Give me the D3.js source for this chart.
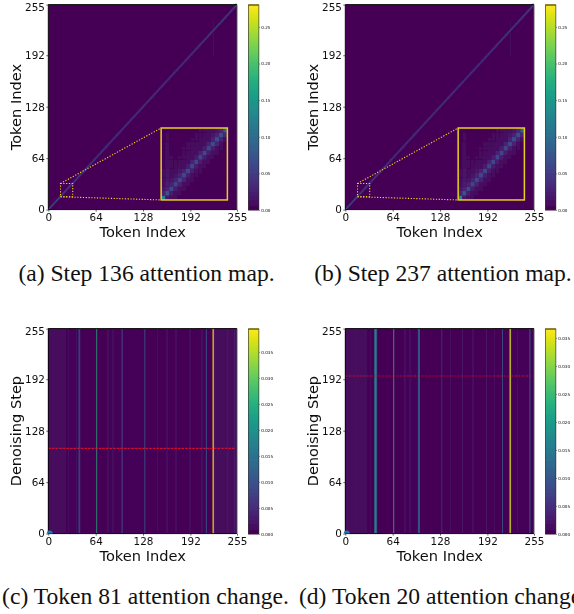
<!DOCTYPE html>
<html><head><meta charset="utf-8">
<script src="https://cdn.jsdelivr.net/npm/d3@7"></script>
<style>
html,body{margin:0;padding:0;background:#fff;overflow:hidden}
svg{display:block}
.panel text{fill:#111}
</style></head><body>
<svg id="chart" width="574" height="614"></svg>
<script>
const tickValues = [0, 64, 128, 192, 255];
const captions = ["(a) Step 136 attention map.", "(b) Step 237 attention map.", "(c) Token 81 attention change.", "(d) Token 20 attention change."];
const mapMax = 0.28;
const changeMaxC = 0.0394;
const changeMaxD = 0.0366;
const mapTicks = [0, 0.05, 0.10, 0.15, 0.20, 0.25];
const changeTicks = [0, 0.005, 0.010, 0.015, 0.020, 0.025, 0.030, 0.035];

// main diagonal strength, one value per run of 16 tokens
const diagonalRuns = [0.10, 0.07, 0.065, 0.06, 0.055, 0.055, 0.055, 0.055, 0.055, 0.055, 0.055, 0.055, 0.06, 0.065, 0.07, 0.075];
const bandOffsets = [1, 2, 3];
const bandValues = [0.035, 0.014, 0.006];
// faint streaks: token, from, to, value
const streaks = [[48, 20, 130, 0.006], [99, 75, 105, 0.004], [131, 105, 170, 0.003], [200, 150, 200, 0.005], [223, 190, 235, 0.013], [211, 160, 212, 0.004]];

// zoomed region, rows from bottom to top, in thousandths
const insetRows = [
 [125,18,9,5,3,2,2,2,1,1,1,1,1,1,1,1],
 [26,72,20,9,6,3,3,2,2,1,1,1,1,1,1,1],
 [14,28,58,24,10,6,4,3,2,2,1,1,1,1,1,1],
 [9,20,26,56,26,10,6,4,3,2,2,2,1,1,1,1],
 [7,18,14,28,58,26,12,6,4,3,2,2,2,1,1,1],
 [6,16,10,14,28,60,24,11,6,4,3,2,2,2,1,1],
 [5,14,7,9,14,26,58,24,10,5,3,3,2,2,1,1],
 [4,12,6,7,9,12,24,58,22,10,5,3,3,2,2,1],
 [4,10,5,5,7,8,12,26,60,22,9,5,3,3,2,2],
 [3,10,5,4,5,6,8,12,24,58,24,10,5,3,2,2],
 [3,8,4,4,4,5,7,8,12,26,60,24,10,5,3,2],
 [3,8,4,3,4,5,6,7,8,12,24,60,24,10,5,3],
 [3,7,4,3,3,4,5,6,7,8,12,26,62,26,10,4],
 [2,6,3,3,3,3,4,5,6,7,9,12,26,64,28,10],
 [2,5,3,3,3,3,3,4,5,6,7,9,14,28,66,30],
 [2,4,3,2,2,3,3,3,4,5,6,7,9,14,30,78]
];

// panel (c) stripes: token, value
const stripesCTokens = [8, 27, 38, 41, 42, 65, 80, 87, 99, 100, 130, 147, 160, 172, 191, 207, 213, 222, 223, 228, 242, 251];
const stripesCValues = [0.002, 0.002, 0.003, 0.011, 0.009, 0.025, 0.002, 0.002, 0.008, 0.006, 0.012, 0.002, 0.003, 0.004, 0.004, 0.002, 0.012, 0.039, 0.035, 0.002, 0.003, 0.004];
const floorC = [[0, 24, 0.0008], [27, 38, 0.0006], [80, 98, 0.0006], [100, 126, 0.0005], [200, 212, 0.0005], [224, 255, 0.001]];

// panel (d) stripes: token, value
const stripesDTokens = [14, 27, 34, 39, 40, 41, 42, 65, 80, 87, 98, 99, 100, 130, 142, 158, 172, 190, 201, 212, 222, 223, 232, 249];
const stripesDValues = [0.002, 0.002, 0.002, 0.012, 0.022, 0.022, 0.014, 0.024, 0.002, 0.002, 0.011, 0.015, 0.012, 0.006, 0.002, 0.003, 0.004, 0.003, 0.002, 0.011, 0.036, 0.034, 0.002, 0.014];
const floorD = [[0, 30, 0.0009], [43, 60, 0.0002], [80, 97, 0.0005], [200, 212, 0.0004], [224, 255, 0.0005]];

const svg = d3.select("#chart");
const defs = svg.append("defs");
defs.append("filter").attr("id", "soft").attr("x", "-5%").attr("y", "-5%").attr("width", "110%").attr("height", "110%")
  .append("feGaussianBlur").attr("stdDeviation", 0.5);

const panelW = 188.7, panelH = 205;
const cbGap = 11.3, cbW = 10.6;

function frame(ox, oy, ylabel, vmax, ticks, fmt) {
  const g = svg.append("g").attr("class", "panel").attr("filter", "url(#soft)");
  const x = d3.scaleLinear().domain([0, 255]).range([ox, ox + panelW]);
  const y = d3.scaleLinear().domain([0, 255]).range([oy + panelH, oy]);
  const color = d3.scaleSequential(d3.interpolateViridis).domain([0, vmax]);
  g.append("rect").attr("x", ox).attr("y", oy).attr("width", panelW).attr("height", panelH).attr("fill", color(0));
  const marks = g.append("g");

  // colour bar
  const cy = d3.scaleLinear().domain([0, vmax]).range([oy + panelH + 0.4, oy + 0.4]);
  const cx = ox + panelW + cbGap;
  const cb = g.append("g");
  cb.selectAll("rect").data(d3.range(0, 1, 1 / 205)).join("rect")
    .attr("x", cx).attr("width", cbW)
    .attr("y", d => cy(vmax * (d + 1 / 205)) - 0.3)
    .attr("height", panelH / 205 + 0.6)
    .attr("fill", d => color(vmax * d));
  cb.append("rect").attr("x", cx).attr("y", oy + 0.4).attr("width", cbW).attr("height", panelH)
    .attr("fill", "none").attr("stroke", "#222").attr("stroke-width", 0.6);
  cb.append("line").attr("x1", cx).attr("x2", cx + cbW).attr("y1", oy + 0.4).attr("y2", oy + 0.4)
    .attr("stroke", "#6b6412").attr("stroke-width", 1.2);
  const cAxis = g.append("g").attr("transform", `translate(${cx + cbW},0)`)
    .call(d3.axisRight(cy).tickValues(ticks).tickFormat(fmt).tickSize(1.2).tickPadding(1.2));
  cAxis.select(".domain").remove();
  cAxis.selectAll("line").attr("stroke-width", 0.4).attr("stroke", "#222");
  cAxis.selectAll("text").attr("font-family", "DejaVu Sans").attr("font-size", 4.1).attr("fill", "#333");

  const overlay = g.append("g");

  // axes and frame
  const ax = g.append("g").attr("transform", `translate(0,${oy + panelH})`)
    .call(d3.axisBottom(x).tickValues(tickValues).tickFormat(d3.format("d")).tickSize(2).tickPadding(1.6));
  const ay = g.append("g").attr("transform", `translate(${ox},0)`)
    .call(d3.axisLeft(y).tickValues(tickValues).tickFormat(d3.format("d")).tickSize(2).tickPadding(1.4));
  [ax, ay].forEach(a => {
    a.select(".domain").remove();
    a.selectAll("line").attr("stroke", "#000").attr("stroke-width", 0.6);
    a.selectAll("text").attr("font-family", "DejaVu Sans").attr("font-size", 10.4);
  });
  ay.selectAll("text").filter(d => d === 255).attr("dy", "0.6em");
  g.append("line").attr("x1", ox).attr("x2", ox + panelW).attr("y1", oy + panelH).attr("y2", oy + panelH).attr("stroke", "#000").attr("stroke-width", 0.9);
  g.append("line").attr("x1", ox).attr("x2", ox).attr("y1", oy).attr("y2", oy + panelH).attr("stroke", "#000").attr("stroke-width", 0.9);
  g.append("line").attr("x1", ox).attr("x2", ox + panelW).attr("y1", oy).attr("y2", oy).attr("stroke", "#000").attr("stroke-width", 0.9);
  g.append("line").attr("x1", ox + panelW).attr("x2", ox + panelW).attr("y1", oy).attr("y2", oy + panelH).attr("stroke", "#555").attr("stroke-width", 0.9);

  g.append("text").attr("x", ox + panelW / 2).attr("y", oy + panelH + 27).attr("text-anchor", "middle")
    .attr("font-family", "DejaVu Sans").attr("font-size", 14.6).text("Token Index");
  g.append("text").attr("transform", `translate(${ox - 32},${oy + panelH / 2}) rotate(-90)`).attr("text-anchor", "middle")
    .attr("dy", "0.35em").attr("font-family", "DejaVu Sans").attr("font-size", 14.6).text(ylabel);
  return { g, x, y, color, marks, overlay, top: g };
}

function attentionPanel(ox, oy) {
  const p = frame(ox, oy, "Token Index", mapMax, mapTicks, d3.format(".2f"));
  const cells = [];
  streaks.forEach(s => d3.range(s[1], s[2]).forEach(r => cells.push({ c: s[0], r, v: s[3] })));
  d3.range(256).forEach(i => {
    const v = diagonalRuns[Math.floor(i / 16)];
    bandOffsets.forEach((o, k) => {
      if (i + o < 256) {
        cells.push({ c: i, r: i + o, v: bandValues[k] });
        cells.push({ c: i + o, r: i, v: bandValues[k] });
      }
    });
    cells.push({ c: i, r: i, v });
  });
  const cw = p.x(1) - p.x(0), ch = p.y(0) - p.y(1);
  p.marks.selectAll("rect").data(cells).join("rect")
    .attr("x", d => p.x(d.c)).attr("y", d => p.y(d.r + 1))
    .attr("width", d => Math.min(cw + 0.1, p.x(255) - p.x(d.c))).attr("height", ch + 0.1).attr("fill", d => p.color(d.v));

  // zoom box in data coordinates
  const box = { x0: 16.5, x1: 33, y0: 16, y1: 32.5 };
  const ins = { x0: 152.5, x1: 242, y0: 12, y1: 101.5 };
  const ix = d3.scaleLinear().domain([0, 16]).range([p.x(ins.x0), p.x(ins.x1)]);
  const iy = d3.scaleLinear().domain([0, 16]).range([p.y(ins.y0), p.y(ins.y1)]);
  const insetCells = insetRows.flatMap((row, r) => row.map((v, c) => ({ r, c, v: v / 1000 })));
  p.overlay.append("g").selectAll("rect").data(insetCells).join("rect")
    .attr("x", d => ix(d.c)).attr("y", d => iy(d.r + 1))
    .attr("width", ix(1) - ix(0) + 0.1).attr("height", iy(0) - iy(1) + 0.1)
    .attr("fill", d => p.color(d.v));
  p.overlay.append("rect").attr("x", p.x(ins.x0)).attr("y", p.y(ins.y1))
    .attr("width", p.x(ins.x1) - p.x(ins.x0)).attr("height", p.y(ins.y0) - p.y(ins.y1))
    .attr("fill", "none").attr("stroke", "#e8cf1c").attr("stroke-width", 1.5);
  p.overlay.append("rect").attr("x", p.x(box.x0)).attr("y", p.y(box.y1))
    .attr("width", p.x(box.x1) - p.x(box.x0)).attr("height", p.y(box.y0) - p.y(box.y1))
    .attr("fill", "none").attr("stroke", "#f2dc1e").attr("stroke-width", 1.1).attr("stroke-dasharray", "1.2 1.6");
  [[box.x0, box.y1, ins.x0, ins.y1], [box.x0, box.y0, ins.x0, ins.y0]].forEach(l => {
    p.overlay.append("line").attr("x1", p.x(l[0])).attr("y1", p.y(l[1])).attr("x2", p.x(l[2])).attr("y2", p.y(l[3]))
      .attr("stroke", "#f2dc1e").attr("stroke-width", 1.1).attr("stroke-dasharray", "1.2 1.6");
  });
}

function changePanel(ox, oy, tokens, values, floor, vmax, step, lineOpacity) {
  const p = frame(ox, oy, "Denoising Step", vmax, changeTicks, d3.format(".3f"));
  const cw = p.x(1) - p.x(0);
  p.marks.append("g").selectAll("rect").data(floor).join("rect")
    .attr("x", d => p.x(d[0])).attr("width", d => p.x(d[1]) - p.x(d[0]))
    .attr("y", oy).attr("height", panelH).attr("fill", d => p.color(d[2]));
  p.marks.append("g").selectAll("rect").data(tokens).join("rect")
    .attr("x", d => p.x(d)).attr("width", cw)
    .attr("y", oy).attr("height", panelH).attr("fill", (d, i) => p.color(values[i]));
  p.overlay.append("line").attr("x1", p.x(0)).attr("x2", p.x(253)).attr("y1", p.y(step)).attr("y2", p.y(step))
    .attr("stroke", "#e0102a").attr("stroke-opacity", lineOpacity).attr("stroke-width", 1.1).attr("stroke-dasharray", "2.6 1");
  const clipId = "clip" + ox;
  defs.append("clipPath").attr("id", clipId).append("rect").attr("x", ox - 5).attr("y", oy).attr("width", 12).attr("height", panelH);
  p.top.append("circle").attr("cx", p.x(0) + 1.5).attr("cy", p.y(0)).attr("r", 3)
    .attr("fill", "#1f77b4").attr("clip-path", `url(#${clipId})`);
}

attentionPanel(48.3, 4.6);
attentionPanel(345.3, 4.6);
changePanel(48.3, 328.6, stripesCTokens, stripesCValues, floorC, changeMaxC, 106, 0.9);
changePanel(345.3, 328.6, stripesDTokens, stripesDValues, floorD, changeMaxD, 196, 0.65);

const capPos = [[146.5, 273], [443, 273], [145.5, 596], [443, 596]];
svg.append("g").selectAll("text").data(captions).join("text")
  .attr("x", (d, i) => capPos[i][0]).attr("y", (d, i) => capPos[i][1])
  .attr("dy", "0.35em").attr("text-anchor", "middle")
  .attr("font-family", "Liberation Serif").attr("font-size", 23.6).attr("fill", "#111")
  .text(d => d);
</script>
</body></html>
